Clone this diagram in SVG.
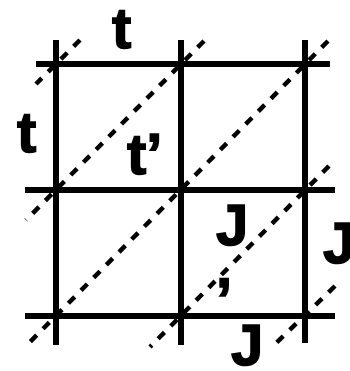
<svg xmlns="http://www.w3.org/2000/svg" width="350" height="371" viewBox="0 0 350 371">
<style>
.grid{stroke:#000;stroke-width:6;fill:none}
.diag{stroke:#000;stroke-width:4.5;fill:none;stroke-dasharray:9 9}
.lbl{font-family:"Liberation Sans",Arial,sans-serif;font-weight:bold;font-size:58px;fill:#000;stroke:#000;stroke-width:1.5}
</style>
<rect width="350" height="371" fill="#fff"/>
<g id="connectors">
<line class="diag" x1="80" y1="40" x2="36" y2="84"/>
<line class="diag" x1="204" y1="41" x2="26" y2="220"/>
<line class="diag" x1="328" y1="41" x2="26" y2="346"/>
<line class="diag" x1="329" y1="166" x2="150" y2="347"/>
<line class="diag" x1="335" y1="286" x2="273" y2="346"/>
<line class="grid" x1="36" y1="64" x2="330" y2="64"/>
<line class="grid" x1="25" y1="190" x2="335" y2="190"/>
<line class="grid" x1="25" y1="316" x2="335" y2="316"/>
<line class="grid" x1="56" y1="40" x2="56" y2="345"/>
<line class="grid" x1="181" y1="40" x2="181" y2="345"/>
<line class="grid" x1="305" y1="40" x2="305" y2="343"/>
</g>
<g id="label-t-top"><text class="lbl" x="112" y="48">t</text></g>
<g id="label-t-left"><text class="lbl" x="17" y="152">t</text></g>
<g id="label-t-prime"><text class="lbl" x="127" y="174">t’</text></g>
<g id="label-j-prime"><text class="lbl" x="216" y="245">J<tspan x="216" y="287">,</tspan></text></g>
<g id="label-j-right"><text class="lbl" x="323" y="263">J</text></g>
<g id="label-j-bottom"><text class="lbl" x="231" y="365">J</text></g>
</svg>
